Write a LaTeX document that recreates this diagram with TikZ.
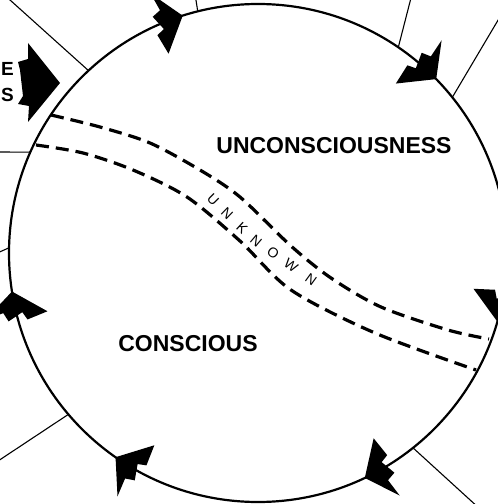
\documentclass[tikz,border=0pt]{standalone}
\usepackage{fontspec}
\setmainfont{Liberation Sans}
\usetikzlibrary{calc}

\begin{document}
\begin{tikzpicture}[x=1pt,y=1pt]
\useasboundingbox (0,0) rectangle (498,504);
\clip (0,0) rectangle (498,504);
\coordinate (O) at (258,251);
% spokes to the outer boxes
\draw[line width=1.1pt] ($(O)+(132.9:249)$) -- (0,513);
\draw[line width=1.1pt] ($(O)+(156.1:249)$) -- (-5,352);
\draw[line width=1.1pt] ($(O)+(104.0:249)$) -- (195,510);
\draw[line width=1.1pt] ($(O)+(55.7:249)$) -- (412,510);
\draw[line width=1.1pt] ($(O)+(38.7:249)$) -- (510,504);
\draw[line width=1.1pt] ($(O)+(178.8:249)$) -- (-5,250);
\draw[line width=1.1pt] ($(O)+(220.4:249)$) -- (-5,41);
\draw[line width=1.1pt] ($(O)+(-51.5:249)$) -- (480,-5);
% the cycle
\draw[line width=2.2pt] (O) circle (249);
% band between the two parts
\draw[line width=3.2pt,dash pattern=on 13pt off 7pt] plot[smooth] coordinates {(51,389) (100,377) (150,361) (200,334) (240,307) (291,258) (331,226) (381,197) (448,174) (489,165)};
\draw[line width=3.2pt,dash pattern=on 13pt off 7pt] plot[smooth] coordinates {(36,359) (83,351) (133,334) (187,307) (240,263) (291,214) (375,171) (476,134)};
% arrowheads on the circle, clockwise
\foreach \a in {107.6,44.3,-16,-64.6,-124.9,188.9}
  \fill[shift={(O)},rotate=\a] (249,0) -- (280,24) -- (261,20) -- (257,29) -- (242,22) -- (238,30) -- (217,25) -- cycle;
% arrow coming in from the left
\fill (28,461) -- (60,421) -- (28,382) -- (29,398) -- (18,400) -- (23,408) -- (20,434) -- (18,442) -- (28,445) -- cycle;
\node[anchor=east,inner sep=0,font=\bfseries\fontsize{19}{19}\selectfont] (e) at (14,435.5) {E};
\node[anchor=east,inner sep=0,font=\bfseries\fontsize{19}{19}\selectfont] (s) at (14,409) {S};
% labels
\node[inner sep=0,font=\bfseries\fontsize{23}{23}\selectfont] (unc) at (334,358) {UNCONSCIOUSNESS};
\node[inner sep=0,font=\bfseries\fontsize{23}{23}\selectfont] (con) at (188,160) {CONSCIOUS};
\foreach \l/\x/\y/\r [count=\i] in {U/213/304/-45,N/227/290/-44,K/242/276/-43,N/256/263/-40,O/273/251/-37,W/291/239/-36,N/311/224/-36}
  \node[inner sep=0,rotate=\r,font=\fontsize{14}{14}\selectfont] (unk\i) at (\x,\y) {\l};
\end{tikzpicture}
\end{document}
